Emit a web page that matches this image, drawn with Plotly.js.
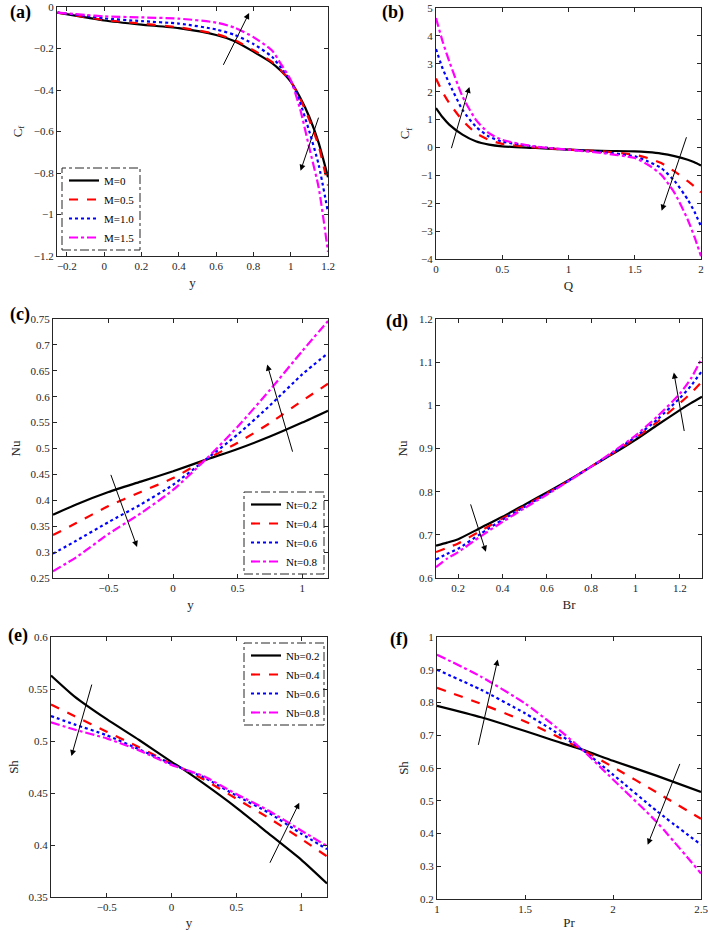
<!DOCTYPE html>
<html><head><meta charset="utf-8">
<script src="https://cdn.plot.ly/plotly-3.0.1.min.js"></script>
<style>html,body{margin:0;padding:0;background:#fff;}#chart{width:708px;height:930px;}</style>
</head><body><div id="chart"></div>
<script>
// ---------- Data ----------
// (a) Cf vs y for M
const aX   = [-0.25, -0.1, 0, 0.2, 0.4, 0.6, 0.7, 0.8, 0.9, 0.95, 1.0, 1.05, 1.1, 1.15, 1.2];
const aM0  = [-0.027, -0.05, -0.065, -0.085, -0.102, -0.135, -0.165, -0.215, -0.27, -0.31, -0.36, -0.435, -0.53, -0.655, -0.82];
const aM05 = [-0.027, -0.048, -0.062, -0.08, -0.098, -0.13, -0.16, -0.208, -0.265, -0.307, -0.358, -0.44, -0.545, -0.67, -0.86];
const aM10 = [-0.027, -0.043, -0.055, -0.068, -0.08, -0.108, -0.135, -0.178, -0.24, -0.295, -0.356, -0.46, -0.6, -0.76, -0.99];
const aM15 = [-0.027, -0.038, -0.045, -0.05, -0.056, -0.075, -0.1, -0.145, -0.21, -0.278, -0.352, -0.49, -0.68, -0.87, -1.18];
const aNames = ['M=0', 'M=0.5', 'M=1.0', 'M=1.5'];

// (b) Cf vs Q
const bX  = [0, 0.05, 0.1, 0.2, 0.3, 0.4, 0.5, 0.75, 1.0, 1.25, 1.5, 1.6, 1.7, 1.8, 1.9, 1.95, 2.0];
const bS1 = [1.41, 1.08, 0.82, 0.46, 0.22, 0.1, 0.04, -0.02, -0.08, -0.12, -0.14, -0.17, -0.22, -0.31, -0.44, -0.53, -0.65];
const bS2 = [2.47, 1.98, 1.59, 0.97, 0.52, 0.27, 0.13, 0.0, -0.08, -0.14, -0.26, -0.38, -0.56, -0.86, -1.21, -1.4, -1.61];
const bS3 = [3.53, 2.83, 2.3, 1.35, 0.75, 0.39, 0.21, 0.03, -0.08, -0.16, -0.32, -0.5, -0.74, -1.2, -1.87, -2.3, -2.83];
const bS4 = [4.64, 3.8, 3.09, 1.83, 1.0, 0.51, 0.27, 0.03, -0.08, -0.2, -0.38, -0.62, -0.98, -1.63, -2.59, -3.2, -3.9];

// (c) Nu vs y for Nt
const cX    = [-0.93, -0.75, -0.5, -0.25, 0, 0.25, 0.5, 0.75, 1.0, 1.2];
const cNt02 = [0.372, 0.392, 0.416, 0.436, 0.456, 0.478, 0.499, 0.523, 0.550, 0.573];
const cNt04 = [0.333, 0.356, 0.389, 0.416, 0.443, 0.478, 0.511, 0.549, 0.592, 0.625];
const cNt06 = [0.297, 0.322, 0.358, 0.392, 0.43, 0.478, 0.527, 0.583, 0.643, 0.684];
const cNt08 = [0.263, 0.29, 0.335, 0.375, 0.42, 0.478, 0.542, 0.613, 0.688, 0.746];
const cNames = ['Nt=0.2', 'Nt=0.4', 'Nt=0.6', 'Nt=0.8'];

// (d) Nu vs Br
const dX  = [0.1, 0.15, 0.2, 0.3, 0.4, 0.5, 0.6, 0.7, 0.8, 0.9, 1.0, 1.1, 1.2, 1.25, 1.3];
const dS1 = [0.675, 0.682, 0.69, 0.716, 0.742, 0.77, 0.798, 0.827, 0.858, 0.888, 0.92, 0.955, 0.989, 1.005, 1.02];
const dS2 = [0.66, 0.67, 0.68, 0.709, 0.738, 0.767, 0.796, 0.826, 0.858, 0.89, 0.924, 0.962, 1.005, 1.028, 1.055];
const dS3 = [0.643, 0.656, 0.668, 0.702, 0.735, 0.765, 0.795, 0.826, 0.858, 0.891, 0.927, 0.968, 1.017, 1.045, 1.08];
const dS4 = [0.625, 0.645, 0.66, 0.696, 0.73, 0.762, 0.793, 0.825, 0.858, 0.893, 0.93, 0.975, 1.027, 1.062, 1.11];

// (e) Sh vs y for Nb
const eX    = [-0.93, -0.75, -0.5, -0.25, 0, 0.08, 0.25, 0.5, 0.75, 1.0, 1.2];
const eNb02 = [0.563, 0.543, 0.521, 0.501, 0.480, 0.4737, 0.459, 0.436, 0.411, 0.386, 0.363];
const eNb04 = [0.535, 0.524, 0.509, 0.494, 0.478, 0.4737, 0.463, 0.4445, 0.426, 0.406, 0.389];
const eNb06 = [0.524, 0.516, 0.5055, 0.492, 0.478, 0.4737, 0.465, 0.4475, 0.431, 0.411, 0.396];
const eNb08 = [0.518, 0.511, 0.5025, 0.491, 0.477, 0.4737, 0.466, 0.449, 0.433, 0.414, 0.399];
const eNames = ['Nb=0.2', 'Nb=0.4', 'Nb=0.6', 'Nb=0.8'];

// (f) Sh vs Pr
const fX  = [1, 1.25, 1.5, 1.65, 1.825, 2.0, 2.25, 2.5];
const fS1 = [0.79, 0.755, 0.713, 0.686, 0.656, 0.622, 0.576, 0.527];
const fS2 = [0.845, 0.796, 0.742, 0.705, 0.656, 0.603, 0.525, 0.445];
const fS3 = [0.9, 0.839, 0.767, 0.718, 0.656, 0.58, 0.468, 0.366];
const fS4 = [0.946, 0.879, 0.797, 0.736, 0.656, 0.565, 0.434, 0.278];

// ---------- Styles ----------
const STYLES = [
  {color:'#000000', dash:'solid', width:2.2},
  {color:'#ff0000', dash:'dash', width:2.2},
  {color:'#0000ff', dash:'dot', width:2.2},
  {color:'#ff00ff', dash:'dashdot', width:2.2}
];
const FONT = 'Liberation Serif';
const AXC = '#262626';

const traces = [];
function addPanel(xs, ys, axN, names, legendId){
  ys.forEach((y,i)=>{
    traces.push({
      x: xs, y: y, type:'scatter', mode:'lines',
      xaxis: 'x'+(axN===1?'':axN), yaxis: 'y'+(axN===1?'':axN),
      name: names ? names[i] : '',
      showlegend: !!names,
      legend: legendId || 'legend',
      line: {color:STYLES[i].color, dash:STYLES[i].dash, width:STYLES[i].width, shape:'spline', smoothing:0.6},
      hoverinfo:'skip'
    });
  });
}
addPanel(aX, [aM0, aM05, aM10, aM15], 1, aNames, 'legend');
addPanel(bX, [bS1, bS2, bS3, bS4], 2, null);
addPanel(cX, [cNt02, cNt04, cNt06, cNt08], 3, cNames, 'legend2');
addPanel(dX, [dS1, dS2, dS3, dS4], 4, null);
addPanel(eX, [eNb02, eNb04, eNb06, eNb08], 5, eNames, 'legend3');
addPanel(fX, [fS1, fS2, fS3, fS4], 6, null);

// pixel helpers
const W = 708, H = 930;
const px = v => v / W;
const py = v => 1 - v / H;

function axis(domain, range, dtick, title, anchor, standoff){
  return {
    domain: domain, range: range, dtick: dtick, tick0: 0, anchor: anchor,
    showline:true, mirror:'ticks', linecolor:AXC, linewidth:1,
    ticks:'inside', ticklen:4, tickcolor:AXC, showgrid:false, zeroline:false,
    tickfont:{family:FONT, size:11, color:AXC}, ticklabeloverflow:'allow',
    title:{text:title, font:{family:FONT, size:13, color:AXC}, standoff:standoff},
    automargin:false, fixedrange:true
  };
}

const legendBase = {xanchor:'left', yanchor:'top', bgcolor:'rgba(255,255,255,0)', borderwidth:0,
  font:{family:FONT, size:11, color:'#000'}, tracegroupgap:0, itemwidth:30};

const layout = {
  width: W, height: H,
  margin:{l:0, r:0, t:0, b:0},
  paper_bgcolor:'#fff', plot_bgcolor:'#fff',
  font:{family:FONT, color:AXC},
  xaxis:  axis([px(57), px(328)],  [-0.253, 1.2], 0.2, 'y',  'y', 6),
  yaxis:  axis([py(256), py(7)],   [-1.2, 0], 0.2, 'C<sub>f</sub>', 'x', 8),
  xaxis2: axis([px(436), px(701)], [0, 2], 0.5, 'Q',  'y2', 6),
  yaxis2: axis([py(259), py(8)],   [-4, 5], 1, 'C<sub>f</sub>', 'x2', 8),
  xaxis3: axis([px(53), px(328)],  [-0.93, 1.2], 0.5, 'y', 'y3', 6),
  yaxis3: axis([py(578), py(319)], [0.25, 0.75], 0.05, 'Nu', 'x3', 6),
  xaxis4: axis([px(436), px(702)], [0.1, 1.3], 0.2, 'Br', 'y4', 6),
  yaxis4: axis([py(578), py(319)], [0.6, 1.2], 0.1, 'Nu', 'x4', 8),
  xaxis5: axis([px(51), px(327)],  [-0.93, 1.2], 0.5, 'y', 'y5', 6),
  yaxis5: axis([py(897), py(637)], [0.35, 0.6], 0.05, 'Sh', 'x5', 6),
  xaxis6: axis([px(437), px(701)], [1, 2.5], 0.5, 'Pr', 'y6', 6),
  yaxis6: axis([py(899), py(637)], [0.2, 1], 0.1, 'Sh', 'x6', 8),
  legend:  Object.assign({x:px(64),  y:py(166)}, legendBase),
  legend2: Object.assign({x:px(246), y:py(490)}, legendBase),
  legend3: Object.assign({x:px(246), y:py(641)}, legendBase),
  shapes: [
    {type:'rect', xref:'paper', yref:'paper', x0:px(62),  x1:px(140), y0:py(250), y1:py(168), line:{color:AXC, width:1, dash:'dashdot'}},
    {type:'rect', xref:'paper', yref:'paper', x0:px(244), x1:px(324), y0:py(574), y1:py(492), line:{color:AXC, width:1, dash:'dashdot'}},
    {type:'rect', xref:'paper', yref:'paper', x0:px(244), x1:px(324), y0:py(725), y1:py(643), line:{color:AXC, width:1, dash:'dashdot'}}
  ],
  annotations: []
};

// panel labels
const labels = [['(a)', 20, 12], ['(b)', 393, 12], ['(c)', 20, 315], ['(d)', 397, 321], ['(e)', 18, 635], ['(f)', 399, 639]];
labels.forEach(l => layout.annotations.push({
  text:'<b>'+l[0]+'</b>', xref:'paper', yref:'paper', x:px(l[1]), y:py(l[2]),
  xanchor:'center', yanchor:'middle', showarrow:false, font:{family:FONT, size:18, color:'#000'}
}));

// arrows [axisN, tailX, tailY, headX, headY]
const arrows = [
  [1, 0.635, -0.286, 0.777, -0.029], [1, 1.152, -0.526, 1.053, -0.789],
  [2, 0.113, -0.08, 0.252, 2.17],    [2, 1.894, 0.42, 1.703, -2.27],
  [3, 0.929, 0.491, 0.729, 0.662],   [3, -0.486, 0.452, -0.279, 0.31],
  [4, 1.221, 0.937, 1.173, 1.076],   [4, 0.254, 0.774, 0.325, 0.661],
  [5, -0.612, 0.5557, -0.772, 0.4856], [5, 0.754, 0.3815, 0.986, 0.4406],
  [6, 1.233, 0.666, 1.345, 0.931],   [6, 2.383, 0.617, 2.197, 0.366]
];
arrows.forEach(a => {
  const s = a[0]===1 ? '' : a[0];
  layout.annotations.push({
    xref:'x'+s, yref:'y'+s, axref:'x'+s, ayref:'y'+s,
    x:a[3], y:a[4], ax:a[1], ay:a[2], text:'', showarrow:true,
    arrowhead:2, arrowsize:1.2, arrowwidth:1, arrowcolor:'#000'
  });
});

Plotly.newPlot('chart', traces, layout, {staticPlot:true, displayModeBar:false});
</script>
</body></html>
